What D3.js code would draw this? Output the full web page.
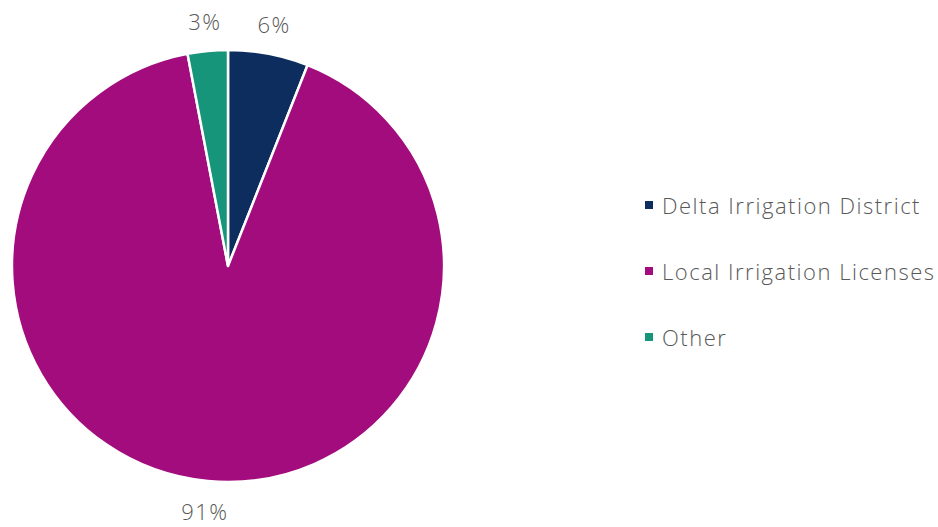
<!DOCTYPE html>
<html><head><meta charset="utf-8">
<script src="https://cdn.jsdelivr.net/npm/d3@7/dist/d3.min.js"></script>
<style>body{margin:0;background:#fff;}svg{display:block;}</style>
</head><body><svg id="c" width="938" height="527"></svg>
<script>
const categories = ["Delta Irrigation District", "Local Irrigation Licenses", "Other"];
const values = [6, 91, 3];
const labels = ["6%", "91%", "3%"];
const colors = ["#0c2d5e", "#a20c7d", "#16957a"];

const svg = d3.select("#c");
const font = "'Century Gothic', 'Open Sans', 'DejaVu Sans', sans-serif";
const cx = 228, cy = 266, r = 216;
const pie = d3.pie().sort(null).value(d => d)(values);
const arc = d3.arc().innerRadius(0).outerRadius(r);
const g = svg.append("g").attr("transform", `translate(${cx},${cy})`);
g.selectAll("path").data(pie).join("path")
  .attr("d", arc).attr("fill", (d,i) => colors[i])
  .attr("stroke", "#fff").attr("stroke-width", 2.5).attr("stroke-linejoin","round");

const labelArc = d3.arc().innerRadius(r + 30).outerRadius(r + 30);
g.selectAll("text").data(pie).join("text")
  .attr("transform", d => { const c = labelArc.centroid(d); return `translate(${c[0]},${c[1]})`; })
  .attr("text-anchor", "middle").attr("dominant-baseline", "central")
  .attr("font-family", font).attr("font-size", 22).attr("font-weight", 300)
  .attr("letter-spacing", 1.5).attr("fill", "#595959")
  .text((d,i) => labels[i]);

const legend = svg.append("g");
const ly = d3.scalePoint().domain(categories).range([205, 337]);
categories.forEach((c, i) => {
  legend.append("rect").attr("x", 645).attr("y", ly(c) - 4).attr("width", 8).attr("height", 8).attr("fill", colors[i]);
  legend.append("text").attr("x", 662).attr("y", ly(c)).attr("dominant-baseline", "central")
    .attr("font-family", font).attr("font-size", 22).attr("font-weight", 300)
    .attr("letter-spacing", 1.5).attr("fill", "#595959").text(c);
});
</script></body></html>
